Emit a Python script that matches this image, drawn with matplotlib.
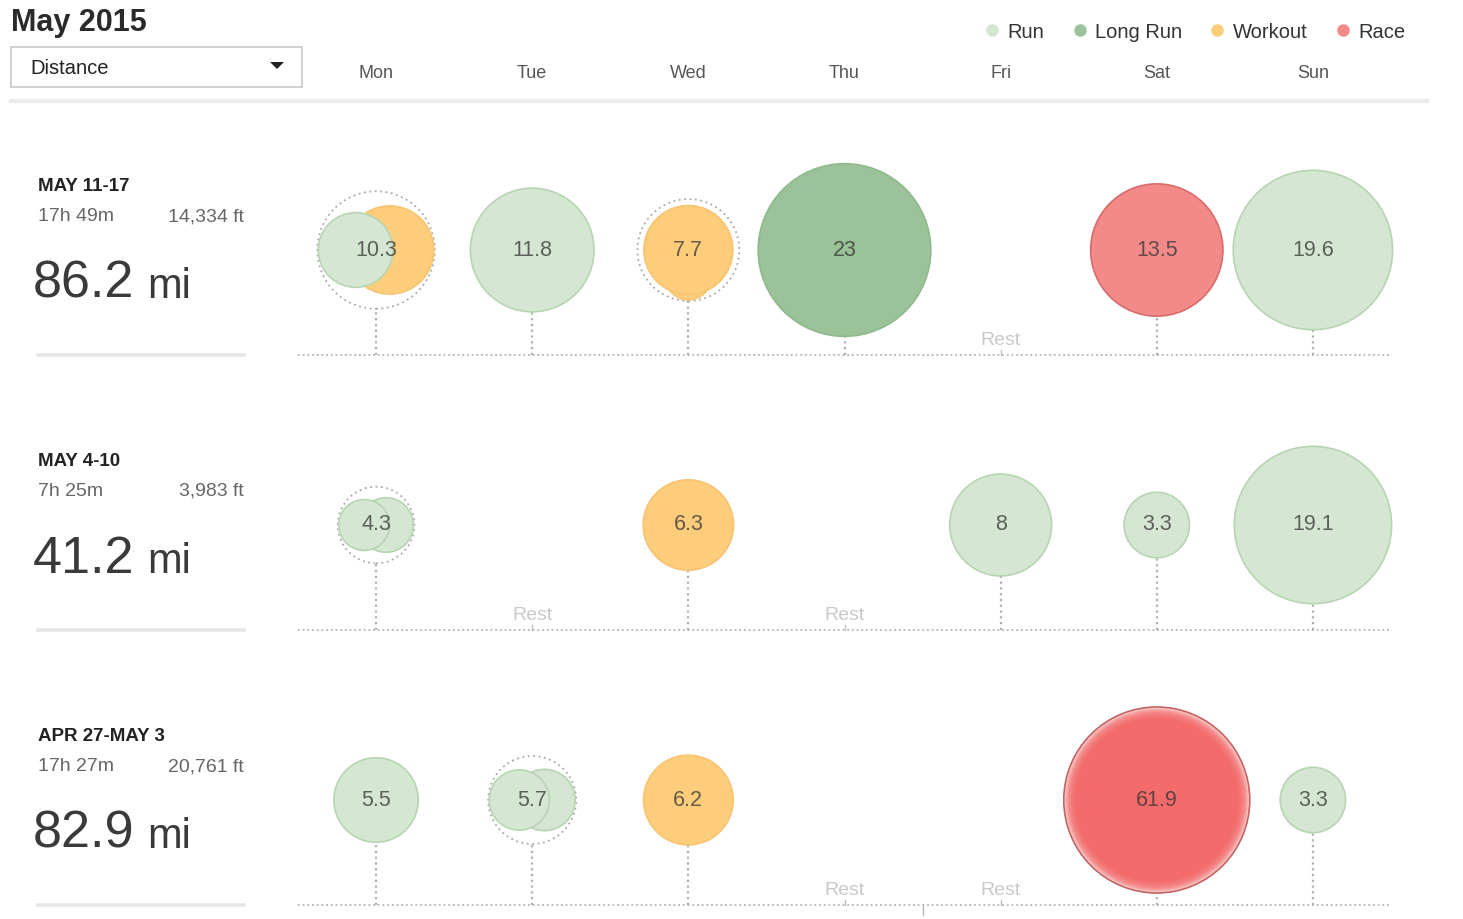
import matplotlib
matplotlib.use("Agg")
import matplotlib.pyplot as plt
import matplotlib.transforms as mtransforms
from matplotlib.patches import Circle, Rectangle, Polygon
from matplotlib.lines import Line2D
import numpy as np

plt.rcParams['font.family'] = ['Liberation Sans', 'DejaVu Sans']

# ---- data ----
days = ["Mon", "Tue", "Wed", "Thu", "Fri", "Sat", "Sun"]
run_types = ["Run", "Long Run", "Workout", "Race"]

week_labels = ["MAY 11-17", "MAY 4-10", "APR 27-MAY 3"]
week_times = ["17h 49m", "7h 25m", "17h 27m"]
week_elev = ["14,334 ft", "3,983 ft", "20,761 ft"]
week_totals = [86.2, 41.2, 82.9]

# each day is a list of (type, miles) pieces
week_may11 = [[("Run", 4.3), ("Workout", 6.0)], [("Run", 11.8)],
              [("Workout", 6.1), ("Workout", 1.6)], [("Long Run", 23)], [],
              [("Race", 13.5)], [("Run", 19.6)]]
week_may4 = [[("Run", 2.0), ("Run", 2.3)], [], [("Workout", 6.3)], [],
             [("Run", 8)], [("Run", 3.3)], [("Run", 19.1)]]
week_apr27 = [[("Run", 5.5)], [("Run", 2.8), ("Run", 2.9)], [("Workout", 6.2)],
              [], [], [("Race", 61.9)], [("Run", 3.3)]]
weeks = [week_may11, week_may4, week_apr27]
month_breaks = [None, None, 3.5]   # Apr -> May between Thu and Fri

fills = {"Run": "#d5e7d2", "Long Run": "#9bc299", "Workout": "#fecd7c", "Race": "#f28a8a"}
edges = {"Run": "#b7d5b2", "Long Run": "#8fba8d", "Workout": "#f6c472", "Race": "#d96b6b"}

# ---- layout ----
W, H = 1463, 919
fig = plt.figure(figsize=(W / 100, H / 100), dpi=100)
fig.patch.set_facecolor("white")

def fx(x):
    return x / W

def fy(y):
    return 1 - y / H

PX = 1093 / 7.0          # pixels per day unit
cy = 105 / PX            # bubble centre height above baseline
dot = (0, (1, 1.6))

def radius(miles):
    return min(18 * np.sqrt(miles), 93) / PX

def capped(miles):
    return 18 * np.sqrt(miles) > 93

def centers(d, R, radii):
    if len(radii) == 1:
        return [(d, cy)]
    r0, r1 = radii
    if r1 < 0.6 * r0:
        return [(d, cy), (d, cy - (R - r1))]
    return [(d - (R - r0), cy), (d + (R - r1), cy)]

# header
fig.text(fx(11), fy(31), "May 2015", size=22, weight="bold", color="#2a2a2a", va="baseline")
fig.patches.append(Rectangle((fx(11), fy(87)), 291 / W, 40 / H, transform=fig.transFigure,
                             fc="white", ec="#c8c8c8", lw=1.2))
fig.text(fx(30), fy(74), "Distance", size=14.5, color="#222222", va="baseline")
fig.patches.append(Polygon([(fx(270), fy(62)), (fx(284), fy(62)), (fx(277), fy(69))],
                           closed=True, transform=fig.transFigure, fc="#222222", ec="none"))
fig.lines.append(Line2D([fx(11), fx(1427)], [fy(101), fy(101)], transform=fig.transFigure,
                        color="#ebebeb", lw=3))

handles = [Line2D([], [], ls="", marker="o", markersize=9, markerfacecolor=fills[t],
                  markeredgecolor="none") for t in run_types]
fig.legend(handles, run_types, loc="center left", bbox_to_anchor=(fx(975), fy(32)),
           ncol=4, frameon=False, fontsize=14.5, handlelength=0.7, handletextpad=0.4,
           columnspacing=1.42, borderpad=0, labelcolor="#333333")

renderer = fig.canvas.get_renderer()

for i, week in enumerate(weeks):
    base = 355 + 275 * i
    ax = fig.add_axes([fx(298), fy(base + 14), 1093 / W, 214 / H])
    ax.set_xlim(-0.5, 6.5)
    ax.set_ylim(-14 / PX, 200 / PX)
    ax.axis("off")

    if i == 0:
        tr = mtransforms.blended_transform_factory(ax.transData, fig.transFigure)
        for d, name in enumerate(days):
            ax.text(d, fy(72), name, transform=tr, ha="center", va="center_baseline",
                    size=13, color="#555555")

    ax.plot([-0.5, 6.5], [0, 0], color="#b5b5b5", lw=1.3, ls=dot, zorder=1)
    if month_breaks[i] is not None:
        ax.plot([month_breaks[i]] * 2, [-10 / PX, 0], color="#b8b8b8", lw=1, zorder=1,
                clip_on=False)

    for d, pieces in enumerate(week):
        if not pieces:
            ax.text(d, 6 / PX, "Rest", ha="center", va="bottom", size=14, color="#c9c9c9")
            ax.plot([d, d], [0, 5 / PX], color="#c0c0c0", lw=1, zorder=1)
            continue
        total = round(sum(m for _, m in pieces), 1)
        R = radius(total)
        ax.plot([d, d], [0, cy - R], color="#b0b0b0", lw=1.6, ls=dot, zorder=1)
        if len(pieces) > 1:
            ax.add_patch(Circle((d, cy), R + 1 / PX, fill=False, ec="#a8a8a8", lw=1.3,
                                ls=(0, (1, 2)), zorder=2, clip_on=False))
        radii = [radius(m) for _, m in pieces]
        for k, ((t, m), c) in enumerate(zip(pieces, centers(d, R, radii))):
            z = 4 + (len(pieces) - k) * 0.1
            r = radii[k]
            if capped(m):
                ax.add_patch(Circle(c, r, fc="#fbd6d6", ec="#c46262", lw=1.2, zorder=z,
                                    clip_on=False))
                for j in range(1, 11):
                    ax.add_patch(Circle(c, r - j / PX, fc="#f36b6b", ec="none", alpha=0.22,
                                        zorder=z, clip_on=False))
                ax.add_patch(Circle(c, r - 11 / PX, fc="#f36b6b", ec="none", zorder=z,
                                    clip_on=False))
            else:
                ax.add_patch(Circle(c, r, fc=fills[t], ec=edges[t], lw=1.2, zorder=z,
                                    clip_on=False))
        ax.text(d, cy, f"{total:g}", ha="center", va="center", size=15.5,
                color="#333333", alpha=0.75, zorder=10)

    # left week summary
    fig.text(fx(38), fy(base - 164), week_labels[i], size=13.5, weight="bold",
             color="#222222", va="baseline")
    fig.text(fx(38), fy(base - 134), week_times[i], size=14, color="#666666", va="baseline")
    fig.text(fx(244), fy(base - 134), week_elev[i], size=14, color="#666666",
             va="baseline", ha="right")
    t = fig.text(fx(33), fy(base - 57), f"{week_totals[i]:.1f}", size=37.5,
                 color="#3a3a3a", va="baseline")
    bb = t.get_window_extent(renderer)
    fig.text((bb.x1 + 13) / W, fy(base - 57), "mi", size=30, color="#3a3a3a", va="baseline")
    fig.lines.append(Line2D([fx(38), fx(244)], [fy(base), fy(base)],
                            transform=fig.transFigure, color="#e6e6e6", lw=2.6))

fig.savefig("out.png", dpi=100, facecolor="white")
